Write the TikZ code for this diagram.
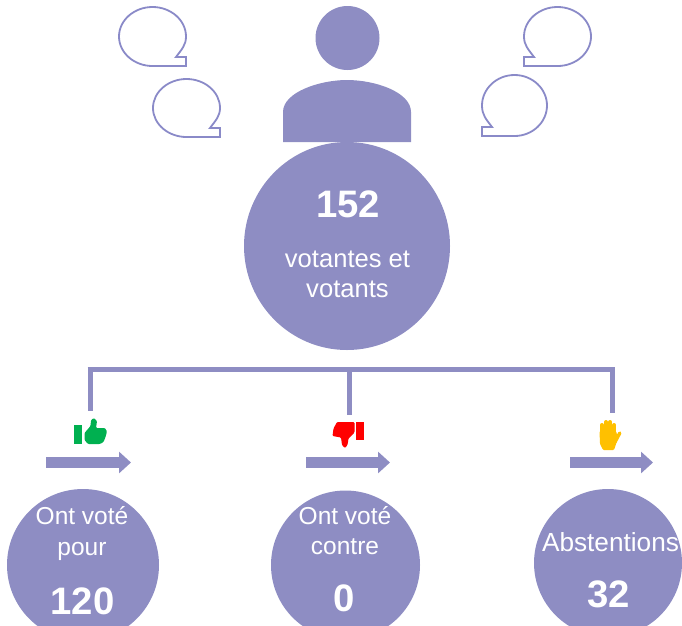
\documentclass[tikz,border=0pt]{standalone}
\usepackage{fontspec}
\setmainfont{Liberation Sans}
\usetikzlibrary{arrows.meta}
\definecolor{vio}{HTML}{8E8DC3}
\definecolor{vline}{HTML}{8A8AC8}
\definecolor{vgreen}{HTML}{00B050}
\definecolor{vred}{HTML}{FF0000}
\definecolor{vyellow}{HTML}{FFC000}
\tikzset{
 disc/.style={fill=vio,draw=none},
 bubble/.style={draw=vline,line width=1.8pt,fill=white,line join=miter},
 link/.style={draw=vio,line width=5pt},
 flow/.style={draw=vio,line width=11pt,-{Triangle[length=12pt,width=21pt]}},
 small/.style={text=white,font=\fontsize{24.5}{29}\selectfont,align=center,inner sep=0pt},
 big/.style={text=white,font=\bfseries\fontsize{38.3}{42}\selectfont,inner sep=0pt},
 finger/.style={draw=vyellow,line width=4pt,line cap=round},
}
% #1 bottom y, #2 top y, #3 x of tail corner, #4 horizontal radius, #5 direction of the tail (1 right, -1 left)
\newcommand{\bubblepath}[5]{%
 \path[bubble] (#3,#1) -- (#3,#1-9) -- (#3-#5*10,#1-9)
   .. controls (#3-#5*4,#1-17) and (#3,#1-21) .. (#3,{(#1+#2)/2})
   .. controls (#3,{(#1+#2)/2-0.55*(#1-#2)/2}) and (#3-#5*#4+#5*0.55*#4,#2) .. (#3-#5*#4,#2)
   .. controls (#3-#5*#4-#5*0.55*#4,#2) and (#3-#5*2*#4,{(#1+#2)/2-0.55*(#1-#2)/2}) .. (#3-#5*2*#4,{(#1+#2)/2})
   .. controls (#3-#5*2*#4,{(#1+#2)/2+0.55*(#1-#2)/2}) and (#3-#5*#4-#5*0.55*#4,#1) .. (#3-#5*#4,#1) -- cycle;}
\begin{document}
\begin{tikzpicture}[x=1pt,y=-1pt]
\useasboundingbox (0,0) rectangle (682,625);
\clip (0,0) rectangle (682,625);
% speech bubbles
\bubblepath{66}{7}{186}{33.5}{1}
\bubblepath{137}{79}{220}{33.5}{1}
\bubblepath{66}{7}{524}{33.5}{-1}
\bubblepath{136}{75}{482}{32.5}{-1}
% person
\node[disc,circle,minimum size=64pt,inner sep=0pt] (head) at (347.5,38) {};
\path[disc] (283,142) -- (283,112) .. controls (283,92) and (320,80) .. (347,80)
  .. controls (375,80) and (411,92) .. (411,112) -- (411,142) -- cycle;
% main disc
\path[disc] (347,246) ellipse (103 and 104);
\node[big] (n152) at (348,204) {152};
\node[small,font=\fontsize{25.6}{29}\selectfont] (lab) at (347.5,274) {votantes et\\[1pt]votants};
% connectors
\coordinate (hL) at (87.5,369);
\coordinate (hR) at (614.5,369);
\coordinate (a) at (90,369);
\coordinate (b) at (349,369);
\coordinate (c) at (612,369);
\coordinate (ae) at (90,411);
\coordinate (be) at (349,415);
\coordinate (ce) at (612,413);
\draw[link] (hL) -- (hR);
\draw[link] (a) -- (ae);
\draw[link] (b) -- (be);
\draw[link] (c) -- (ce);
% arrows
\coordinate (f1a) at (46,462.5);\coordinate (f1b) at (131,462.5);
\coordinate (f2a) at (306,462.5);\coordinate (f2b) at (390,462.5);
\coordinate (f3a) at (570,462.5);\coordinate (f3b) at (653,462.5);
\draw[flow] (f1a) -- (f1b);
\draw[flow] (f2a) -- (f2b);
\draw[flow] (f3a) -- (f3b);
% thumb up
\fill[vgreen] (74.3,425) rectangle (82.3,444);
\fill[vgreen,rounded corners=1pt] (84.5,433) -- (90.5,426) -- (91,420) -- (94,418) -- (97,421) -- (96,428)
 -- (105,428) -- (107,431.5) -- (105.5,437) -- (103.5,442) -- (100,444) -- (88,444) -- (84.5,440) -- cycle;
% thumb down
\fill[vred] (356,422) rectangle (364,440);
\fill[vred,rounded corners=1pt] (354.5,422) -- (337,422) -- (333.5,428.5) -- (332.5,436) -- (341,437.5)
 -- (342,445) -- (345,448) -- (347.5,445) -- (348.5,438.5) -- (354.5,432.5) -- cycle;
% hand
\fill[vyellow,rounded corners=1pt] (599.5,431) -- (616,431) -- (618,438) -- (616,444) -- (614,450) -- (603,450) -- (600,444) -- cycle;
\draw[finger] (601.8,436) -- (601.8,425);
\draw[finger] (606,436) -- (606,422);
\draw[finger] (610.2,436) -- (610.2,422);
\draw[finger] (614.2,436) -- (614.2,425);
\draw[finger,line width=3.4pt] (615,442) -- (619.8,433);
% bottom discs
\node[disc,circle,minimum size=152pt,inner sep=0pt] (d1) at (83,565) {};
\node[disc,circle,minimum size=149pt,inner sep=0pt] (d2) at (345.5,565) {};
\node[disc,circle,minimum size=148pt,inner sep=0pt] (d3) at (608,563) {};
\node[small] (t1) at (82,533.5) {Ont voté\\[2pt]pour};
\node[small] (t2) at (345,531) {Ont voté\\[1pt]contre};
\node[small,font=\fontsize{26.2}{30}\selectfont] (t3) at (610.5,542) {Abstentions};
\node[big] (v1) at (82.5,601) {120};
\node[big] (v2) at (344.5,598) {0};
\node[big] (v3) at (608.5,594) {32};
\end{tikzpicture}
\end{document}
